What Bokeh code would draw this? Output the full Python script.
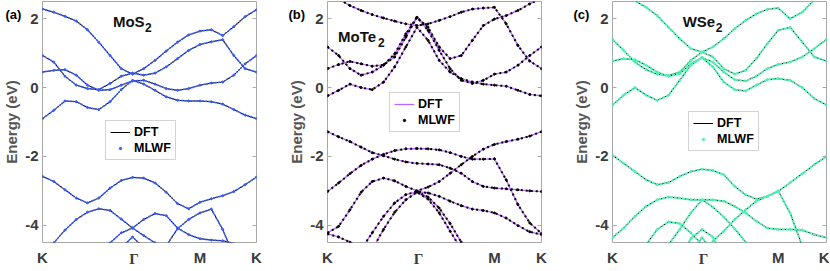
import numpy as np
from bokeh.plotting import figure
from bokeh.layouts import row
from bokeh.models import Range1d, FixedTicker, LinearAxis, Label, Legend, LegendItem, ColumnDataSource, Title
from bokeh.embed import file_html
from bokeh.resources import INLINE

nan = None

# ---------------- k-path grids (fraction of path length) ----------------
K_A = [0.0, 0.053, 0.105, 0.158, 0.21, 0.263, 0.316, 0.368, 0.421, 0.473, 0.526, 0.578, 0.631, 0.683, 0.736, 0.789, 0.842, 0.894, 0.947, 1.0]
K_B = [0.0, 0.052, 0.105, 0.157, 0.209, 0.262, 0.314, 0.366, 0.418, 0.47, 0.522, 0.573, 0.625, 0.677, 0.728, 0.78, 0.835, 0.89, 0.945, 1.0]
K_C = [0.0, 0.052, 0.105, 0.157, 0.209, 0.262, 0.314, 0.366, 0.418, 0.469, 0.52, 0.571, 0.622, 0.672, 0.723, 0.774, 0.83, 0.887, 0.943, 1.0]
TICKS_A = [0.0, 0.421, 0.736, 1.0]
TICKS_B = [0.0, 0.418, 0.78, 1.0]
TICKS_C = [0.0, 0.418, 0.774, 1.0]
TICK_LABELS = ["K", "\u0393", "M", "K"]
E_TICKS = [-4, -2, 0, 2]

# ---------------- MoS2 bands (eV) ----------------
mos2_c1 = [2.28, 2.19, 2.07, 1.93, 1.68, 1.32, 0.93, 0.55, 0.39, 0.55, 0.79, 1.06, 1.32, 1.53, 1.64, 1.68, 1.51, 1.77, 2.06, 2.26]
mos2_c2 = [0.93, 0.74, 0.33, 0.07, -0.03, -0.06, 0.12, 0.33, 0.42, 0.36, 0.42, 0.60, 0.84, 1.08, 1.25, 1.33, 1.39, 0.93, 0.55, 0.45]
mos2_c3 = [0.45, 0.50, 0.52, 0.36, 0.07, -0.08, -0.06, 0.07, 0.19, 0.21, 0.10, -0.03, -0.08, -0.03, 0.07, 0.13, 0.16, 0.36, 0.69, 0.93]
mos2_c4 = [-0.90, -0.66, -0.39, -0.41, -0.58, -0.64, -0.41, -0.06, 0.21, 0.10, -0.08, -0.27, -0.37, -0.39, -0.39, -0.41, -0.48, -0.64, -0.80, -0.90]
mos2_v1 = [-2.58, -2.73, -2.97, -3.21, -3.35, -3.21, -2.92, -2.70, -2.61, -2.63, -2.77, -3.04, -3.37, -3.52, -3.33, -3.23, -3.14, -3.02, -2.82, -2.60]
mos2_v2 = [-4.94, -4.51, -4.14, -3.83, -3.62, -3.52, -3.57, -3.82, -4.08, -4.30, -4.51, -4.75, nan, nan, nan, nan, nan, nan, nan, nan]
mos2_v3 = [nan, nan, nan, nan, nan, -4.85, -4.51, -4.22, -4.08, -3.83, -3.66, -3.72, -4.08, -4.27, -4.39, -4.43, -4.45, -4.53, -4.80, nan]
mos2_v4 = [nan, nan, nan, nan, nan, nan, nan, nan, nan, nan, nan, -4.60, -4.10, -3.83, -3.64, -3.53, -4.12, -4.90, nan, nan]
mos2_v5 = [nan, nan, nan, nan, nan, nan, nan, -4.65, -4.34, -4.65, nan, nan, nan, nan, nan, nan, nan, nan, nan, nan]

# ---------------- MoTe2 bands (eV) ----------------
mote2_c1 = [2.81, 2.57, 2.38, 2.24, 2.12, 2.02, 1.93, 1.85, 1.80, 1.85, 1.95, 2.06, 2.19, 2.28, 2.31, 2.33, 1.85, 1.22, 0.77, 0.55]
mote2_c2 = [1.18, 0.93, 0.55, 0.36, 0.45, 0.65, 0.98, 1.56, 2.04, 1.75, 1.18, 0.84, 0.93, 1.37, 1.80, 1.99, 2.09, 2.24, 2.43, 2.60]
mote2_c3 = [0.55, 0.67, 0.76, 0.69, 0.62, 0.66, 0.89, 1.46, 2.04, 1.66, 1.08, 0.55, 0.21, 0.12, 0.21, 0.39, 0.45, 0.65, 0.93, 1.18]
mote2_c4 = [-0.24, -0.08, 0.10, 0.00, -0.06, 0.16, 0.60, 1.18, 1.75, 1.37, 0.79, 0.45, 0.26, 0.16, 0.10, 0.07, 0.04, -0.08, -0.20, -0.24]
mote2_v1 = [-1.28, -1.43, -1.57, -1.73, -1.89, -1.98, -2.08, -2.16, -2.20, -2.22, -2.24, -2.34, -2.49, -2.73, -2.87, -2.92, -2.94, -2.97, -3.00, -3.02]
mote2_v2 = [-3.02, -2.77, -2.50, -2.26, -2.08, -1.94, -1.83, -1.78, -1.77, -1.78, -1.81, -1.89, -2.00, -2.08, -2.08, -2.07, -2.68, -3.40, -3.93, -4.24]
mote2_v3 = [-4.22, -4.03, -3.55, -3.04, -2.73, -2.63, -2.71, -2.87, -3.00, -2.89, -2.73, -2.49, -2.24, -2.00, -1.79, -1.65, -1.57, -1.50, -1.41, -1.28]
mote2_v4 = [nan, nan, nan, -4.70, -4.22, -3.74, -3.35, -3.11, -3.02, -3.06, -3.16, -3.30, -3.43, -3.53, -3.57, -3.64, -3.79, -4.01, -4.19, -4.27]
mote2_v5 = [nan, nan, nan, nan, -4.70, -4.12, -3.62, -3.26, -3.04, -3.24, -3.64, -4.17, -4.70, nan, nan, nan, nan, nan, nan, nan]
mote2_v6 = [nan, nan, nan, nan, nan, nan, nan, nan, -3.02, -3.18, -3.50, -3.95, -4.49, -5.09, nan, nan, nan, nan, nan, nan]
mote2_v7 = [-4.25, -4.34, -4.49, -4.70, nan, nan, nan, nan, nan, nan, nan, nan, nan, nan, nan, nan, nan, nan, nan, nan]

# ---------------- WSe2 bands (eV) ----------------
wse2_c1 = [2.91, 2.72, 2.52, 2.33, 2.09, 1.75, 1.42, 1.13, 1.03, 1.18, 1.42, 1.71, 1.95, 2.14, 2.27, 2.31, 2.00, 2.19, 2.55, 2.85]
wse2_c2 = [1.40, 1.08, 0.74, 0.52, 0.39, 0.35, 0.45, 0.79, 1.03, 0.89, 0.55, 0.39, 0.50, 0.84, 1.27, 1.66, 1.75, 1.32, 0.89, 0.77]
wse2_c3 = [0.77, 0.84, 0.81, 0.65, 0.45, 0.33, 0.40, 0.69, 0.87, 0.74, 0.45, 0.23, 0.19, 0.33, 0.55, 0.67, 0.74, 0.89, 1.13, 1.40]
wse2_c4 = [-0.51, -0.22, 0.00, -0.22, -0.37, -0.22, 0.21, 0.65, 0.87, 0.60, 0.16, -0.06, -0.10, 0.07, 0.23, 0.26, 0.21, 0.00, -0.32, -0.51]
wse2_v1 = [-1.97, -2.20, -2.44, -2.68, -2.82, -2.76, -2.58, -2.44, -2.37, -2.41, -2.53, -2.87, -3.11, -3.24, -3.16, -3.02, -2.76, -2.50, -2.24, -2.00]
wse2_v2 = [-4.36, -4.08, -3.74, -3.45, -3.26, -3.18, -3.21, -3.26, -3.26, -3.26, -3.30, -3.45, -3.64, -3.88, -4.08, -4.12, -4.12, -4.14, -4.27, -4.36]
wse2_v3 = [nan, nan, nan, nan, nan, nan, nan, nan, nan, -4.46, -4.17, -3.83, -3.55, -3.30, -3.16, -3.00, -3.64, -4.61, nan, nan]
wse2_v4 = [nan, nan, nan, nan, nan, -4.56, -4.12, -3.64, -3.26, -3.47, -3.76, -4.10, -4.49, -4.89, nan, nan, nan, nan, nan, nan]
wse2_v5 = [nan, nan, nan, -4.56, -4.12, -3.90, -3.95, -4.22, -4.56, nan, nan, nan, nan, nan, nan, nan, nan, nan, nan, nan]
wse2_v6 = [nan, nan, nan, nan, nan, nan, -4.99, -4.39, -4.12, -4.34, -4.99, nan, nan, nan, nan, nan, nan, nan, nan, nan]
wse2_v7 = [nan, nan, nan, nan, nan, nan, nan, -4.80, -4.36, -4.75, nan, nan, nan, nan, nan, nan, nan, nan, nan, nan]

FONT = "Liberation Sans"
FRAME_GRAY = "#a8a8a8"
LABEL_GRAY = "#3c3c3c"


def make_panel(tag, tag_dx, kgrid, ticks, bands, dft_color, dft_width, mlwf_color, mlwf_dash, mlwf_width,
               name, name_x, name_y, sub_dx, leg_xy, width, right_border):
    p = figure(width=width, height=268,
               x_range=Range1d(0, 1), y_range=Range1d(-4.5, 2.5),
               output_backend="svg", toolbar_location=None,
               title=tag, title_location="above",
               min_border_left=39, min_border_right=right_border,
               min_border_top=1, min_border_bottom=24,
               background_fill_color="white", border_fill_color="white")
    # panel tag "(a)" placed next to the top-left corner of the frame
    p.title.align = "left"
    p.title.offset = tag_dx
    p.title.standoff = -40
    p.title.vertical_align = "bottom"
    p.title.text_font = FONT
    p.title.text_font_style = "bold"
    p.title.text_font_size = "13px"
    p.title.text_color = "black"

    p.grid.visible = False
    p.outline_line_color = FRAME_GRAY
    p.outline_line_width = 1

    xa = p.xaxis[0]
    xa.ticker = FixedTicker(ticks=ticks)
    xa.major_label_overrides = {ticks[0]: TICK_LABELS[0], ticks[1]: "", ticks[2]: TICK_LABELS[2], ticks[3]: TICK_LABELS[3]}
    xa.major_tick_in = 0
    xa.major_tick_out = 0
    xa.minor_tick_line_color = None
    xa.axis_line_color = None
    xa.major_label_standoff = 6
    xa.major_label_text_font = FONT
    xa.major_label_text_font_style = "bold"
    xa.major_label_text_font_size = "15px"
    xa.major_label_text_color = LABEL_GRAY

    # serif Gamma tick label, placed under the Gamma tick
    gam_w = 9.0
    frame_w = width - 39 - right_border
    g = Title(text=TICK_LABELS[1], align="left", offset=ticks[1] * frame_w - gam_w / 2,
              standoff=-36, vertical_align="top",
              text_font="Liberation Serif", text_font_style="bold", text_font_size="15px",
              text_color=LABEL_GRAY)
    p.add_layout(g, "below")

    ya = p.yaxis[0]
    ya.ticker = FixedTicker(ticks=E_TICKS)
    ya.major_label_overrides = {t: str(t) for t in E_TICKS}
    ya.major_tick_in = 4
    ya.major_tick_out = 0
    ya.major_tick_line_color = FRAME_GRAY
    ya.minor_tick_line_color = None
    ya.axis_line_color = None
    ya.major_label_standoff = 4
    ya.major_label_text_font = FONT
    ya.major_label_text_font_style = "bold"
    ya.major_label_text_font_size = "15px"
    ya.major_label_text_color = LABEL_GRAY
    ya.axis_label = "Energy (eV)"
    ya.axis_label_standoff = 2
    ya.axis_label_text_font = FONT
    ya.axis_label_text_font_style = "bold"
    ya.axis_label_text_font_size = "15px"
    ya.axis_label_text_color = "#555555"

    ra = LinearAxis(ticker=FixedTicker(ticks=E_TICKS),
                    major_label_overrides={t: "" for t in E_TICKS},
                    major_label_text_font_size="0px", major_label_standoff=0,
                    major_tick_in=4, major_tick_out=0, major_tick_line_color=FRAME_GRAY,
                    minor_tick_line_color=None, axis_line_color=None)
    p.add_layout(ra, "right")

    sources = [ColumnDataSource(dict(k=kgrid, e=np.array(b, dtype=float))) for b in bands]
    dft_rs = []
    for src in sources:
        dft_rs.append(p.line("k", "e", source=src, line_color=dft_color, line_width=dft_width))
    ml_rs = []
    for src in sources:
        p.line("k", "e", source=src, line_color=mlwf_color, line_width=mlwf_width, line_dash=mlwf_dash)
        ml_rs.append(p.scatter("k", "e", source=src, marker="circle", size=2,
                               fill_color=mlwf_color, line_color=mlwf_color))

    leg = Legend(items=[LegendItem(label="DFT", renderers=[dft_rs[0]]),
                        LegendItem(label="MLWF", renderers=[ml_rs[0]])],
                 location=leg_xy, orientation="vertical",
                 border_line_color=FRAME_GRAY, border_line_width=1,
                 background_fill_color="white", background_fill_alpha=1.0,
                 label_text_font=FONT, label_text_font_style="bold",
                 label_text_font_size="12.5px", label_text_color="black",
                 glyph_width=20, glyph_height=6, label_height=13,
                 spacing=2, padding=4, margin=0, label_standoff=4)
    p.add_layout(leg)

    p.add_layout(Label(x=name_x, y=name_y, text=name,
                       text_font=FONT, text_font_style="bold", text_font_size="15px",
                       text_baseline="alphabetic", text_color="#111111"))
    p.add_layout(Label(x=name_x, y=name_y, x_offset=sub_dx, y_offset=-6, text="2",
                       text_font=FONT, text_font_style="bold", text_font_size="12px",
                       text_baseline="alphabetic", text_color="#111111"))
    return p


pa = make_panel("(a)", -37, K_A, TICKS_A,
                [mos2_c1, mos2_c2, mos2_c3, mos2_c4, mos2_v1, mos2_v2, mos2_v3, mos2_v4, mos2_v5],
                "black", 1, "#3a5cf5", "2 1", 1.6,
                "MoS", 0.329, 1.93, 32, (63, 82), 285, 29)
pb = make_panel("(b)", -39, K_B, TICKS_B,
                [mote2_c1, mote2_c2, mote2_c3, mote2_c4, mote2_v1, mote2_v2, mote2_v3, mote2_v4, mote2_v5, mote2_v6, mote2_v7],
                "#bb66ff", 1.3, "black", "2 3", 2.0,
                "MoTe", 0.049, 1.47, 40, (62, 110), 285, 29)
pc = make_panel("(c)", -39, K_C, TICKS_C,
                [wse2_c1, wse2_c2, wse2_c3, wse2_c4, wse2_v1, wse2_v2, wse2_v3, wse2_v4, wse2_v5, wse2_v6, wse2_v7],
                "black", 1, "#52f0b2", "3 1", 2.0,
                "WSe", 0.328, 1.93, 33, (76, 91), 259, 3)

layout = row(pa, pb, pc)
open("out.html", "w").write(file_html(layout, INLINE))
